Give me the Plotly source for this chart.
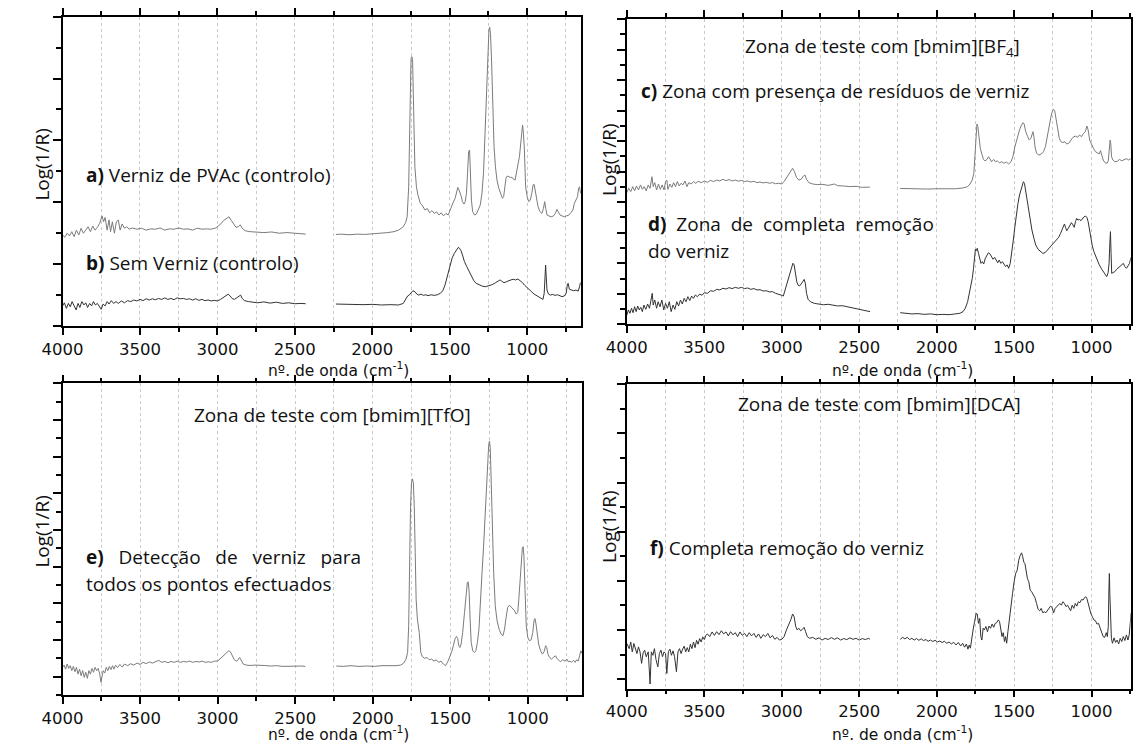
import plotly.graph_objects as go

W, H = 1133, 746


def px(x):
    return x / W


def py(y):
    return 1 - y / H


# ---------------- data: (wavenumber cm-1, Log(1/R) in tick units) ----------------
spec_a = [
    (4000, 2.94), (3985, 2.87), (3970, 3.00), (3955, 2.91), (3940, 3.05), (3925, 2.89), (3910, 3.10),
    (3895, 2.94), (3880, 3.16), (3865, 3.00), (3850, 3.10), (3835, 3.21), (3820, 3.05), (3805, 3.23),
    (3790, 3.10), (3775, 3.19), (3760, 3.32), (3745, 3.56), (3735, 3.37), (3725, 3.51), (3712, 3.10),
    (3700, 3.43), (3690, 3.05), (3678, 3.37), (3665, 3.00), (3652, 3.37), (3640, 3.43), (3628, 3.10),
    (3615, 3.30), (3600, 3.16), (3585, 3.21), (3570, 3.13), (3550, 3.17), (3520, 3.13), (3490, 3.16),
    (3460, 3.10), (3430, 3.14), (3400, 3.13), (3370, 3.17), (3340, 3.10), (3310, 3.14), (3280, 3.13),
    (3250, 3.17), (3220, 3.13), (3190, 3.14), (3160, 3.10), (3130, 3.16), (3100, 3.13), (3070, 3.14),
    (3040, 3.13), (3010, 3.17), (2985, 3.27), (2960, 3.41), (2940, 3.48), (2925, 3.53), (2910, 3.41),
    (2895, 3.30), (2880, 3.19), (2865, 3.21), (2852, 3.27), (2840, 3.16), (2820, 3.08), (2790, 3.05),
    (2750, 3.04), (2700, 3.02), (2650, 3.04), (2600, 3.00), (2550, 3.02), (2500, 3.00), (2460, 2.97),
    (2430, 2.97),
    (2235, 2.96), (2200, 2.97), (2150, 2.95), (2100, 2.97), (2050, 2.96), (2000, 2.97), (1950, 3.00),
    (1900, 3.02), (1860, 3.05), (1830, 3.10), (1800, 3.21), (1785, 3.34), (1775, 3.53), (1765, 4.50),
    (1757, 7.31), (1750, 8.65), (1745, 8.71), (1740, 8.62), (1733, 6.98), (1725, 5.15), (1715, 4.50),
    (1705, 4.23), (1690, 3.97), (1675, 3.88), (1660, 3.75), (1645, 3.80), (1630, 3.66), (1615, 3.73),
    (1600, 3.64), (1585, 3.69), (1570, 3.59), (1555, 3.66), (1540, 3.56), (1525, 3.64), (1510, 3.59),
    (1495, 3.80), (1480, 3.97), (1465, 4.13), (1455, 4.34), (1448, 4.48), (1440, 4.40), (1432, 4.29),
    (1425, 4.18), (1418, 4.02), (1408, 3.94), (1400, 4.02), (1392, 4.29), (1385, 4.94), (1378, 5.64),
    (1372, 5.69), (1366, 4.94), (1360, 4.07), (1352, 3.70), (1340, 3.59), (1328, 3.62), (1315, 3.75),
    (1303, 3.91), (1292, 4.29), (1282, 4.94), (1272, 6.23), (1262, 7.84), (1254, 8.92), (1247, 9.57),
    (1242, 9.66), (1237, 9.46), (1230, 8.60), (1222, 7.09), (1214, 5.80), (1205, 5.15), (1195, 4.72),
    (1183, 4.45), (1170, 4.29), (1160, 4.13), (1152, 4.18), (1145, 4.45), (1137, 4.77), (1128, 4.85),
    (1118, 4.83), (1108, 4.80), (1098, 4.81), (1088, 4.74), (1078, 4.72), (1068, 4.94), (1058, 5.26),
    (1050, 5.47), (1043, 5.80), (1036, 6.23), (1030, 6.50), (1024, 6.23), (1018, 5.69), (1010, 4.50),
    (1000, 4.18), (990, 4.02), (980, 4.07), (970, 4.29), (962, 4.56), (955, 4.58), (948, 4.40),
    (940, 4.07), (930, 3.86), (918, 3.70), (905, 3.64), (895, 3.80), (887, 4.02), (880, 3.80),
    (872, 3.59), (860, 3.56), (845, 3.53), (830, 3.56), (818, 3.64), (808, 3.77), (798, 3.69),
    (788, 3.59), (775, 3.56), (760, 3.53), (745, 3.56), (730, 3.59), (718, 3.66), (705, 3.75),
    (695, 3.97), (685, 4.07), (675, 4.18), (668, 4.45), (662, 4.50), (655, 4.29),
]

spec_b = [
    (4000, 0.65), (3988, 0.75), (3975, 0.57), (3962, 0.73), (3950, 0.62), (3938, 0.79), (3925, 0.65),
    (3912, 0.52), (3900, 0.73), (3888, 0.60), (3875, 0.79), (3862, 0.68), (3850, 0.75), (3838, 0.60),
    (3825, 0.73), (3812, 0.65), (3800, 0.79), (3788, 0.68), (3775, 0.73), (3762, 0.62), (3750, 0.54),
    (3738, 0.71), (3725, 0.65), (3712, 0.79), (3700, 0.71), (3685, 0.82), (3670, 0.73), (3655, 0.79),
    (3640, 0.73), (3620, 0.81), (3600, 0.75), (3580, 0.82), (3560, 0.79), (3540, 0.84), (3520, 0.81),
    (3500, 0.86), (3480, 0.82), (3460, 0.88), (3440, 0.84), (3420, 0.88), (3400, 0.85), (3380, 0.89),
    (3360, 0.86), (3340, 0.91), (3320, 0.86), (3300, 0.89), (3280, 0.85), (3260, 0.91), (3240, 0.88),
    (3220, 0.89), (3200, 0.86), (3180, 0.88), (3160, 0.84), (3140, 0.88), (3120, 0.83), (3100, 0.86),
    (3080, 0.82), (3060, 0.84), (3040, 0.81), (3020, 0.83), (3000, 0.81), (2980, 0.86), (2960, 0.93),
    (2945, 0.97), (2930, 1.03), (2918, 0.97), (2905, 0.89), (2890, 0.86), (2875, 0.91), (2860, 0.97),
    (2850, 1.00), (2840, 0.89), (2825, 0.82), (2800, 0.79), (2770, 0.78), (2740, 0.75), (2700, 0.78),
    (2660, 0.74), (2620, 0.77), (2580, 0.73), (2540, 0.75), (2500, 0.72), (2460, 0.73), (2430, 0.72),
    (2235, 0.71), (2180, 0.70), (2120, 0.71), (2060, 0.69), (2000, 0.70), (1940, 0.68), (1880, 0.69),
    (1830, 0.68), (1800, 0.73), (1785, 0.84), (1772, 0.97), (1762, 1.00), (1750, 1.06), (1738, 1.14),
    (1725, 1.11), (1712, 1.03), (1700, 1.00), (1685, 1.03), (1670, 0.99), (1655, 1.01), (1640, 0.98),
    (1620, 1.01), (1600, 0.99), (1580, 1.01), (1560, 1.06), (1545, 1.14), (1530, 1.33), (1515, 1.59),
    (1500, 1.92), (1485, 2.19), (1470, 2.35), (1455, 2.48), (1445, 2.54), (1436, 2.51), (1428, 2.44),
    (1418, 2.30), (1405, 2.08), (1390, 1.92), (1375, 1.76), (1360, 1.59), (1345, 1.47), (1330, 1.38),
    (1310, 1.33), (1290, 1.29), (1270, 1.27), (1250, 1.29), (1230, 1.33), (1210, 1.38), (1190, 1.43),
    (1175, 1.49), (1165, 1.45), (1150, 1.40), (1135, 1.43), (1120, 1.47), (1105, 1.49), (1090, 1.51),
    (1075, 1.49), (1060, 1.52), (1045, 1.47), (1030, 1.40), (1015, 1.31), (1000, 1.25), (985, 1.16),
    (970, 1.10), (955, 1.03), (940, 0.99), (925, 0.95), (910, 0.89), (898, 0.86), (890, 1.06),
    (885, 1.70), (881, 1.97), (877, 1.59), (872, 1.16), (862, 1.03), (850, 1.00), (835, 1.02),
    (820, 0.99), (805, 1.01), (790, 0.98), (775, 0.95), (760, 0.97), (748, 1.06), (740, 1.36),
    (735, 1.38), (728, 1.19), (715, 1.16), (700, 1.14), (685, 1.16), (670, 1.13), (662, 1.27),
    (656, 1.40),
]

spec_c = [
    (4000, 8.62), (3988, 8.91), (3975, 8.69), (3962, 9.02), (3950, 8.75), (3938, 9.06), (3925, 8.80),
    (3912, 9.13), (3900, 8.84), (3888, 9.02), (3875, 8.75), (3862, 9.13), (3850, 8.91), (3838, 9.67),
    (3830, 9.02), (3820, 9.28), (3808, 8.80), (3796, 9.19), (3784, 8.84), (3772, 9.13), (3760, 8.80),
    (3750, 9.35), (3742, 9.45), (3735, 8.84), (3722, 9.19), (3710, 8.97), (3698, 9.28), (3686, 9.02),
    (3674, 9.35), (3662, 9.06), (3650, 9.24), (3638, 9.13), (3625, 9.39), (3612, 9.02), (3600, 9.28),
    (3585, 9.19), (3570, 9.35), (3555, 9.24), (3540, 9.37), (3520, 9.28), (3500, 9.39), (3480, 9.30),
    (3460, 9.43), (3440, 9.35), (3420, 9.45), (3400, 9.39), (3380, 9.50), (3360, 9.41), (3340, 9.48),
    (3320, 9.39), (3300, 9.45), (3280, 9.37), (3260, 9.43), (3240, 9.35), (3220, 9.39), (3200, 9.32),
    (3180, 9.37), (3160, 9.28), (3140, 9.32), (3120, 9.26), (3100, 9.30), (3080, 9.24), (3060, 9.28),
    (3040, 9.21), (3020, 9.24), (3000, 9.19), (2985, 9.35), (2965, 9.67), (2945, 10.00), (2930, 10.22),
    (2918, 10.00), (2905, 9.63), (2890, 9.45), (2875, 9.50), (2860, 9.72), (2850, 9.78), (2840, 9.50),
    (2825, 9.28), (2800, 9.19), (2770, 9.15), (2740, 9.17), (2700, 9.10), (2660, 9.19), (2640, 9.08),
    (2600, 9.06), (2560, 9.02), (2520, 9.04), (2480, 8.97), (2440, 8.99), (2430, 8.97),
    (2235, 8.90), (2180, 8.88), (2120, 8.90), (2060, 8.86), (2000, 8.88), (1940, 8.86), (1880, 8.88),
    (1830, 8.93), (1800, 9.02), (1785, 9.19), (1770, 9.45), (1760, 9.89), (1752, 11.20), (1746, 12.51),
    (1740, 13.12), (1734, 12.95), (1726, 12.07), (1718, 11.52), (1708, 11.15), (1698, 10.80),
    (1688, 10.71), (1675, 10.80), (1665, 10.98), (1655, 10.76), (1645, 10.65), (1632, 10.80),
    (1620, 10.65), (1608, 10.71), (1595, 10.58), (1580, 10.65), (1565, 10.55), (1550, 10.63),
    (1535, 10.50), (1520, 10.65), (1508, 10.98), (1495, 11.63), (1480, 12.25), (1465, 12.73),
    (1452, 13.06), (1443, 13.21), (1435, 13.12), (1425, 12.62), (1412, 12.29), (1402, 12.07),
    (1392, 12.18), (1385, 12.51), (1378, 12.62), (1372, 12.29), (1365, 11.63), (1355, 11.20),
    (1340, 11.09), (1325, 11.15), (1310, 11.31), (1298, 11.63), (1285, 12.40), (1272, 13.06),
    (1262, 13.60), (1254, 13.92), (1246, 14.08), (1238, 13.99), (1228, 13.38), (1218, 12.84),
    (1208, 12.18), (1198, 11.96), (1185, 11.90), (1172, 11.96), (1160, 11.81), (1148, 11.85),
    (1135, 12.03), (1120, 12.25), (1105, 12.33), (1090, 12.25), (1078, 12.40), (1065, 12.29),
    (1052, 12.51), (1040, 12.62), (1030, 12.99), (1022, 12.73), (1012, 12.07), (1000, 11.75),
    (988, 11.53), (975, 11.31), (962, 11.20), (950, 11.16), (942, 11.38), (935, 11.16), (925, 10.76),
    (912, 10.58), (900, 10.55), (892, 10.71), (885, 11.31), (880, 12.07), (876, 11.85), (871, 10.98),
    (862, 10.76), (850, 10.65), (835, 10.67), (820, 10.80), (805, 10.71), (790, 10.76), (775, 10.85),
    (760, 10.76), (745, 10.87),
]

spec_d = [
    (4000, 0.61), (3990, 0.94), (3980, 0.72), (3970, 1.05), (3960, 0.76), (3950, 1.15), (3940, 0.83),
    (3930, 1.20), (3920, 0.94), (3910, 1.11), (3900, 0.83), (3890, 1.26), (3878, 0.98), (3866, 1.33),
    (3854, 1.05), (3842, 1.70), (3836, 2.03), (3830, 1.26), (3820, 1.59), (3808, 1.05), (3798, 1.48),
    (3786, 1.15), (3774, 1.59), (3762, 0.94), (3750, 1.37), (3738, 1.05), (3726, 1.48), (3714, 0.83),
    (3702, 1.26), (3690, 0.98), (3678, 1.48), (3666, 1.20), (3654, 1.59), (3642, 1.33), (3630, 1.70),
    (3618, 1.48), (3606, 1.81), (3594, 1.55), (3582, 1.85), (3570, 1.70), (3558, 1.92), (3545, 1.81),
    (3530, 1.98), (3515, 1.90), (3500, 2.07), (3480, 2.03), (3460, 2.20), (3440, 2.16), (3420, 2.29),
    (3400, 2.25), (3380, 2.36), (3360, 2.31), (3340, 2.40), (3320, 2.34), (3300, 2.42), (3280, 2.36),
    (3260, 2.42), (3240, 2.34), (3220, 2.38), (3200, 2.29), (3180, 2.34), (3160, 2.25), (3140, 2.27),
    (3120, 2.18), (3100, 2.20), (3080, 2.12), (3060, 2.14), (3040, 2.03), (3020, 1.98), (3000, 1.90),
    (2990, 1.85), (2978, 2.25), (2965, 2.69), (2950, 3.12), (2938, 3.67), (2928, 4.00), (2920, 3.89),
    (2912, 3.34), (2903, 2.79), (2895, 2.57), (2885, 2.51), (2875, 2.64), (2865, 2.79), (2855, 2.94),
    (2848, 2.69), (2840, 2.03), (2830, 1.64), (2815, 1.48), (2790, 1.37), (2760, 1.33), (2730, 1.28),
    (2700, 1.31), (2670, 1.24), (2640, 1.20), (2610, 1.22), (2580, 1.15), (2550, 1.11), (2520, 1.05),
    (2490, 0.98), (2460, 0.89), (2430, 0.83),
    (2235, 0.76), (2200, 0.72), (2160, 0.68), (2120, 0.70), (2080, 0.65), (2040, 0.68), (2000, 0.63),
    (1960, 0.65), (1920, 0.63), (1880, 0.68), (1850, 0.72), (1830, 0.83), (1815, 1.05), (1800, 1.48),
    (1790, 1.92), (1780, 2.46), (1770, 3.01), (1762, 3.67), (1756, 4.65), (1750, 4.91), (1744, 4.82),
    (1738, 4.98), (1730, 4.65), (1722, 4.21), (1714, 3.99), (1705, 4.10), (1696, 3.95), (1686, 4.32),
    (1676, 4.54), (1666, 4.69), (1656, 4.61), (1646, 4.43), (1636, 4.26), (1626, 4.39), (1616, 4.17),
    (1606, 4.03), (1596, 4.21), (1586, 3.99), (1575, 4.10), (1565, 3.89), (1555, 3.78), (1545, 3.89),
    (1535, 3.67), (1525, 3.99), (1515, 4.65), (1505, 5.52), (1495, 6.39), (1485, 7.27), (1475, 7.92),
    (1465, 8.47), (1455, 8.90), (1447, 9.23), (1440, 9.34), (1433, 9.23), (1425, 8.69), (1415, 8.14),
    (1405, 7.38), (1395, 6.72), (1385, 6.18), (1372, 5.63), (1360, 5.19), (1345, 4.91), (1330, 4.76),
    (1315, 4.65), (1300, 4.69), (1285, 4.87), (1270, 5.04), (1255, 5.19), (1240, 5.34), (1225, 5.52),
    (1212, 5.70), (1200, 5.96), (1190, 6.18), (1182, 6.44), (1175, 6.57), (1168, 6.35), (1160, 6.13),
    (1150, 6.29), (1140, 6.51), (1130, 6.66), (1120, 6.51), (1112, 6.35), (1104, 6.72), (1096, 6.94),
    (1088, 6.83), (1078, 6.87), (1068, 6.79), (1058, 6.94), (1048, 7.05), (1038, 7.09), (1030, 7.00),
    (1022, 6.72), (1014, 6.18), (1005, 5.56), (995, 5.13), (985, 4.76), (975, 4.47), (962, 4.17),
    (950, 3.89), (938, 3.67), (925, 3.45), (912, 3.23), (902, 3.12), (893, 3.38), (887, 3.99),
    (882, 5.30), (878, 6.07), (874, 4.65), (870, 3.34), (862, 3.38), (850, 3.45), (838, 3.60),
    (825, 3.73), (815, 3.78), (805, 3.89), (795, 3.99), (785, 3.78), (775, 3.67), (765, 3.82),
    (755, 3.99), (745, 4.39),
]

spec_e = [
    (4000, 1.51), (3990, 1.63), (3980, 1.41), (3970, 1.69), (3960, 1.45), (3950, 1.60), (3940, 1.33),
    (3930, 1.56), (3920, 1.27), (3910, 1.51), (3900, 1.14), (3890, 1.41), (3880, 1.05), (3870, 1.33),
    (3860, 0.96), (3850, 1.24), (3840, 0.91), (3830, 1.33), (3820, 1.14), (3810, 1.45), (3800, 1.24),
    (3790, 1.51), (3780, 1.33), (3770, 1.45), (3760, 1.14), (3752, 0.69), (3745, 1.02), (3738, 1.33),
    (3728, 1.20), (3718, 1.51), (3708, 1.33), (3698, 1.56), (3688, 1.38), (3678, 1.60), (3668, 1.41),
    (3658, 1.63), (3645, 1.49), (3630, 1.67), (3615, 1.52), (3600, 1.69), (3580, 1.60), (3560, 1.71),
    (3540, 1.63), (3520, 1.74), (3500, 1.67), (3480, 1.78), (3460, 1.71), (3440, 1.80), (3420, 1.74),
    (3400, 1.81), (3380, 1.89), (3360, 1.78), (3340, 1.83), (3320, 1.76), (3300, 1.83), (3280, 1.78),
    (3260, 1.85), (3240, 1.78), (3220, 1.83), (3200, 1.80), (3180, 1.85), (3160, 1.78), (3140, 1.83),
    (3120, 1.80), (3100, 1.85), (3080, 1.78), (3060, 1.81), (3040, 1.78), (3020, 1.85), (3000, 1.85),
    (2985, 1.96), (2970, 2.05), (2955, 2.18), (2940, 2.32), (2928, 2.41), (2918, 2.36), (2905, 2.10),
    (2892, 1.92), (2880, 1.85), (2868, 1.92), (2858, 2.05), (2848, 1.87), (2835, 1.69), (2815, 1.63),
    (2790, 1.61), (2760, 1.63), (2730, 1.60), (2700, 1.61), (2660, 1.58), (2620, 1.60), (2580, 1.56),
    (2540, 1.58), (2500, 1.56), (2460, 1.58), (2435, 1.56),
    (2235, 1.58), (2190, 1.56), (2140, 1.60), (2090, 1.56), (2040, 1.58), (1990, 1.56), (1940, 1.60),
    (1890, 1.58), (1850, 1.60), (1820, 1.63), (1800, 1.74), (1785, 1.96), (1775, 2.32), (1768, 3.77),
    (1762, 7.40), (1756, 10.30), (1750, 11.57), (1744, 11.79), (1738, 11.57), (1732, 10.30),
    (1726, 7.76), (1720, 5.22), (1712, 4.14), (1700, 3.41), (1690, 2.32), (1680, 2.10), (1665, 2.00),
    (1650, 2.05), (1635, 1.92), (1620, 1.96), (1605, 1.85), (1590, 1.92), (1575, 1.78), (1560, 1.85),
    (1545, 1.69), (1530, 1.60), (1518, 1.78), (1505, 2.05), (1492, 2.32), (1480, 2.69), (1470, 3.05),
    (1460, 3.19), (1452, 3.08), (1445, 2.69), (1438, 2.59), (1430, 2.78), (1420, 3.41), (1408, 4.50),
    (1398, 5.59), (1390, 6.13), (1384, 6.17), (1378, 5.59), (1372, 4.14), (1365, 2.87), (1355, 2.41),
    (1345, 2.32), (1335, 2.41), (1325, 2.87), (1315, 3.59), (1305, 4.86), (1295, 6.67), (1285, 8.13),
    (1275, 9.58), (1265, 11.21), (1258, 12.66), (1252, 13.66), (1247, 13.84), (1242, 13.48),
    (1236, 11.57), (1228, 8.85), (1220, 6.67), (1210, 4.86), (1198, 4.04), (1185, 3.59), (1172, 3.32),
    (1160, 3.23), (1150, 3.59), (1140, 4.22), (1130, 4.77), (1118, 4.90), (1105, 4.77), (1095, 4.64),
    (1085, 4.59), (1075, 4.41), (1065, 4.50), (1058, 5.22), (1050, 6.31), (1042, 7.40), (1035, 8.04),
    (1030, 8.09), (1025, 7.58), (1018, 5.77), (1010, 3.77), (1000, 3.14), (990, 2.96), (978, 3.01),
    (968, 3.41), (960, 4.04), (954, 4.17), (948, 3.92), (940, 3.23), (930, 2.78), (918, 2.41),
    (906, 2.23), (895, 2.36), (885, 2.69), (878, 2.59), (870, 2.23), (860, 2.05), (848, 1.96),
    (835, 2.05), (822, 2.14), (812, 2.00), (800, 1.87), (790, 1.81), (775, 1.92), (760, 1.85),
    (748, 1.96), (738, 1.81), (728, 1.85), (718, 1.78), (705, 1.89), (695, 1.78), (685, 1.92),
    (675, 1.85), (666, 2.14), (658, 2.41), (652, 2.28),
]

spec_f = [
    (4000, 1.45), (3985, 1.24), (3975, 1.51), (3965, 1.11), (3955, 1.45), (3945, 1.24), (3935, 1.04),
    (3925, 1.31), (3915, 1.11), (3905, 0.64), (3895, 1.07), (3885, 1.18), (3875, 0.91), (3862, 1.11),
    (3850, -0.20), (3842, 1.11), (3832, 0.97), (3822, 1.24), (3812, 0.80), (3800, 0.50), (3790, 1.04),
    (3780, 1.18), (3770, 0.91), (3760, 1.11), (3750, 1.04), (3742, 0.23), (3732, 1.11), (3722, 1.22),
    (3712, 0.97), (3702, 1.15), (3692, 0.91), (3680, 0.30), (3670, 1.11), (3660, 1.24), (3650, 1.04),
    (3640, 1.22), (3630, 1.34), (3620, 1.11), (3610, 1.28), (3600, 1.11), (3590, 1.42), (3580, 1.24),
    (3570, 1.51), (3560, 1.28), (3550, 1.58), (3540, 1.42), (3530, 1.65), (3520, 1.51), (3510, 1.72),
    (3500, 1.61), (3490, 1.78), (3480, 1.84), (3465, 1.73), (3450, 1.92), (3435, 1.78), (3420, 1.93),
    (3405, 1.81), (3390, 1.97), (3375, 1.84), (3360, 1.92), (3345, 1.76), (3330, 1.93), (3315, 1.80),
    (3300, 1.89), (3285, 1.73), (3270, 1.92), (3255, 1.78), (3240, 1.86), (3225, 1.73), (3210, 1.89),
    (3195, 1.76), (3180, 1.86), (3165, 1.70), (3150, 1.84), (3135, 1.66), (3120, 1.81), (3105, 1.73),
    (3090, 1.86), (3075, 1.68), (3060, 1.78), (3045, 1.62), (3030, 1.70), (3015, 1.59), (3000, 1.62),
    (2985, 1.73), (2970, 2.00), (2955, 2.20), (2942, 2.41), (2930, 2.65), (2920, 2.54), (2910, 2.14),
    (2900, 2.00), (2890, 2.07), (2878, 1.97), (2866, 2.03), (2856, 2.11), (2846, 1.93), (2835, 1.73),
    (2820, 1.66), (2800, 1.70), (2780, 1.62), (2760, 1.68), (2740, 1.59), (2720, 1.66), (2700, 1.61),
    (2680, 1.69), (2660, 1.62), (2640, 1.68), (2620, 1.59), (2600, 1.65), (2580, 1.61), (2560, 1.68),
    (2540, 1.62), (2520, 1.66), (2500, 1.59), (2480, 1.65), (2460, 1.61), (2440, 1.66), (2430, 1.62),
    (2235, 1.62), (2220, 1.70), (2205, 1.64), (2190, 1.70), (2175, 1.61), (2160, 1.66), (2145, 1.59),
    (2130, 1.65), (2115, 1.58), (2100, 1.64), (2085, 1.57), (2070, 1.61), (2055, 1.54), (2040, 1.59),
    (2025, 1.53), (2010, 1.58), (1995, 1.51), (1980, 1.55), (1965, 1.49), (1950, 1.54), (1935, 1.46),
    (1920, 1.51), (1905, 1.43), (1890, 1.50), (1875, 1.39), (1860, 1.49), (1845, 1.35), (1832, 1.46),
    (1820, 1.30), (1808, 1.43), (1798, 1.22), (1790, 1.39), (1782, 1.26), (1775, 1.66), (1765, 2.00),
    (1755, 2.34), (1745, 2.68), (1738, 2.65), (1730, 2.27), (1722, 2.47), (1715, 1.73), (1708, 1.59),
    (1700, 2.07), (1692, 2.00), (1682, 2.14), (1672, 1.93), (1662, 2.16), (1652, 2.07), (1642, 2.24),
    (1632, 2.11), (1622, 2.27), (1612, 2.30), (1602, 2.41), (1594, 2.34), (1586, 1.93), (1578, 1.73),
    (1570, 1.89), (1562, 1.53), (1555, 1.73), (1548, 1.46), (1540, 1.93), (1530, 2.54), (1520, 3.08),
    (1510, 3.49), (1500, 3.96), (1490, 4.30), (1480, 4.43), (1470, 4.84), (1460, 5.04), (1452, 5.14),
    (1445, 5.00), (1438, 4.77), (1430, 4.70), (1422, 4.30), (1414, 4.09), (1405, 3.96), (1396, 3.62),
    (1386, 3.55), (1376, 3.42), (1366, 3.32), (1355, 3.08), (1345, 2.84), (1335, 2.78), (1325, 2.88),
    (1315, 2.70), (1305, 2.74), (1295, 2.70), (1285, 2.78), (1275, 2.88), (1265, 2.97), (1255, 2.92),
    (1245, 2.70), (1235, 2.88), (1225, 2.95), (1215, 3.01), (1205, 3.08), (1195, 3.01), (1185, 3.15),
    (1175, 3.08), (1165, 2.95), (1155, 3.01), (1145, 2.88), (1135, 2.78), (1125, 3.01), (1115, 2.88),
    (1105, 3.08), (1095, 2.97), (1085, 3.15), (1075, 3.11), (1065, 3.24), (1055, 3.22), (1045, 3.32),
    (1037, 3.35), (1030, 3.28), (1022, 3.08), (1014, 2.95), (1005, 2.68), (995, 2.54), (985, 2.41),
    (975, 2.38), (965, 2.24), (955, 2.27), (945, 2.11), (935, 1.93), (925, 1.73), (915, 1.70),
    (905, 1.89), (898, 1.73), (892, 2.14), (888, 3.62), (885, 4.30), (882, 3.49), (878, 2.14),
    (872, 1.66), (865, 1.46), (855, 1.68), (845, 1.49), (835, 1.59), (825, 1.43), (815, 1.66),
    (805, 1.53), (795, 1.73), (785, 1.57), (775, 1.80), (765, 1.59), (757, 1.80), (750, 2.27),
    (745, 2.70),
]

GRAY = "#7b7b7b"
DARK = "#333333"


def split(spec):
    xs, ys = [], []
    prev = None
    for w, v in spec:
        if prev is not None and prev - w > 150:
            xs.append(None)
            ys.append(None)
        xs.append(w)
        ys.append(v)
        prev = w
    return xs, ys


fig = go.Figure()
for spec, color, ax in [(spec_a, GRAY, "1"), (spec_b, DARK, "1"),
                        (spec_c, GRAY, "2"), (spec_d, DARK, "2"),
                        (spec_e, GRAY, "3"), (spec_f, DARK, "4")]:
    xs, ys = split(spec)
    sfx = "" if ax == "1" else ax
    fig.add_trace(go.Scatter(x=xs, y=ys, mode="lines", line=dict(color=color, width=1),
                             xaxis="x" + sfx, yaxis="y" + sfx, hoverinfo="skip"))

# panels: pixel boxes (left, right, bottom, top), ranges, y ticks
panels = [
    dict(box=(42.3, 570.5, 326.0, 16.7), xr=[4000, 653], yr=[0, 10],
         major=[0, 2, 4, 6, 8, 10], minor=[1, 3, 5, 7, 9]),
    dict(box=(617.3, 1130.7, 324.3, 19.0), xr=[4000, 747], yr=[0, 20],
         major=list(range(0, 21, 2)), minor=list(range(1, 20, 2))),
    dict(box=(42.3, 572.0, 695.0, 383.3), xr=[4000, 648], yr=[0, 17],
         major=list(range(1, 18, 2)), minor=list(range(0, 17, 2))),
    dict(box=(617.3, 1130.7, 688.7, 384.3), xr=[4000, 747], yr=[-0.39, 12.0],
         major=list(range(0, 13, 2)), minor=list(range(1, 12, 2))),
]

GRID = "#c9c9c9"
layout = dict(width=W, height=H, margin=dict(l=0, r=0, t=0, b=0),
              paper_bgcolor="white", plot_bgcolor="white", showlegend=False)

for i, p in enumerate(panels):
    l, r, b, t = p["box"]
    sfx = "" if i == 0 else str(i + 1)
    layout["xaxis" + sfx] = dict(
        domain=[px(l), px(r)], range=p["xr"], anchor="y" + sfx,
        showline=True, linecolor="black", linewidth=1.5, mirror="ticks",
        ticks="outside", ticklen=7, tickwidth=1.5, tickcolor="black",
        tickmode="linear", tick0=0, dtick=500,
        tickfont=dict(family="DejaVu Sans", size=16.5, color="#111111"),
        showgrid=True, gridcolor=GRID, griddash="dot", gridwidth=1, zeroline=False,
        minor=dict(tick0=0, dtick=250, ticks="outside", ticklen=4, tickwidth=1.5,
                   tickcolor="black", showgrid=True, gridcolor=GRID, griddash="dot", gridwidth=1),
    )
    layout["yaxis" + sfx] = dict(
        domain=[py(b), py(t)], range=p["yr"], anchor="x" + sfx,
        showline=True, linecolor="black", linewidth=1.5, mirror=True,
        ticks="outside", ticklen=8, tickwidth=1.5, tickcolor="black",
        tickmode="array", tickvals=p["major"], showticklabels=False,
        showgrid=False, zeroline=False,
        minor=dict(tickvals=p["minor"], ticks="outside", ticklen=5, tickwidth=1.5, tickcolor="black"),
    )

fig.update_layout(**layout)

TXT = dict(family="Open Sans", size=19, color="#111111")
XT = dict(family="DejaVu Sans", size=15.5, color="#111111")


def note(text, x, y, anchor="left", font=TXT, angle=0, yanchor="middle"):
    fig.add_annotation(text=text, x=px(x), y=py(y), xref="paper", yref="paper",
                       xanchor=anchor, yanchor=yanchor, showarrow=False, font=font,
                       textangle=angle)


xtitle = "nº. de onda (cm<sup>-1</sup>)"
note(xtitle, 323, 369, "center", XT)
note(xtitle, 898, 369, "center", XT)
note(xtitle, 323, 746, "center", XT, yanchor="bottom")
note(xtitle, 898, 746, "center", XT, yanchor="bottom")

note("Log(1/R)", 21, 165, "center", TXT, -90)
note("Log(1/R)", 599, 160, "center", TXT, -90)
note("Log(1/R)", 21, 532, "center", TXT, -90)
note("Log(1/R)", 599, 527, "center", TXT, -90)

note("<b>a)</b> Verniz de PVAc (controlo)", 64, 175)
note("<b>b)</b> Sem Verniz (controlo)", 64, 263)

note("Zona de teste com [bmim][BF<sub>4</sub>]", 878, 47, "center")
note("<b>c)</b> Zona com presença de resíduos de verniz", 630, 91)
note("<b>d)</b>\u00a0 Zona\u00a0 de\u00a0 completa\u00a0 remoção", 637, 224)
note("do verniz", 637, 251)

note("Zona de teste com [bmim][TfO]", 317, 415, "center")
note("<b>e)</b>\u00a0\u00a0 Detecção\u00a0\u00a0 de\u00a0\u00a0 verniz\u00a0\u00a0 para", 64, 557)
note("todos os pontos efectuados", 64, 584)

note("Zona de teste com [bmim][DCA]", 875, 404, "center")
note("<b>f)</b> Completa remoção do verniz", 639, 548)

fig.write_html("out.html")
